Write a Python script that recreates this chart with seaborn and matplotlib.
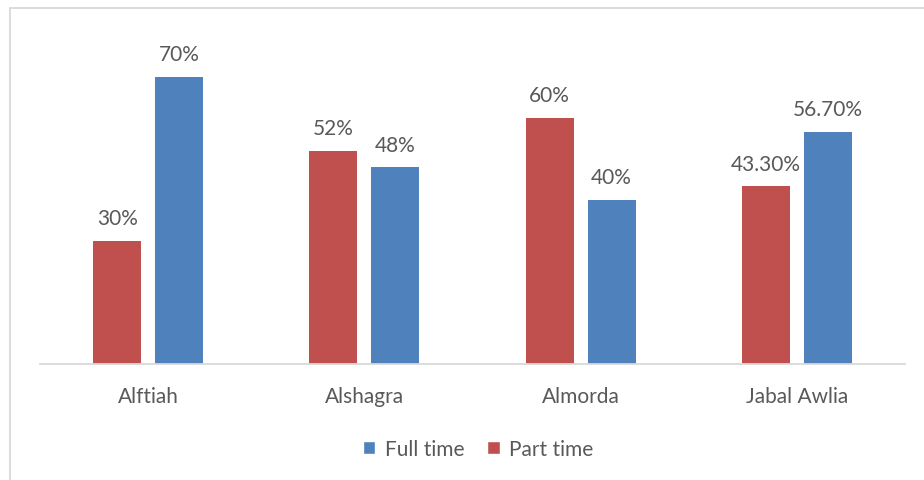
import matplotlib
matplotlib.use("Agg")
import matplotlib.pyplot as plt
import seaborn as sns
import pandas as pd
from matplotlib.lines import Line2D
from matplotlib.patches import Patch

categories = ["Alftiah", "Alshagra", "Almorda", "Jabal Awlia"]
part_time = [30, 52, 60, 43.3]
full_time = [70, 48, 40, 56.7]
part_labels = ["30%", "52%", "60%", "43.30%"]
full_labels = ["70%", "48%", "40%", "56.70%"]
series = ["Part time", "Full time"]
colors = {"Part time": "#C0504D", "Full time": "#4F81BD"}

sns.set_style("white")
plt.rcParams["font.family"] = ["Lato", "DejaVu Sans"]
text_color = "#595959"
fs = 15

df = pd.DataFrame({
    "category": categories * 2,
    "series": ["Part time"] * 4 + ["Full time"] * 4,
    "value": part_time + full_time,
})

fig = plt.figure(figsize=(9.24, 4.81), dpi=100)
ax = fig.add_axes([40 / 924, 1 - 365 / 481, 865 / 924, (365 - 37) / 481])
sns.barplot(data=df, x="category", y="value", hue="series", hue_order=series,
            palette=colors, width=0.572, gap=0.224, ax=ax, legend=False,
            saturation=1, edgecolor="none")

for container, labels in zip(ax.containers, [part_labels, full_labels]):
    ax.bar_label(container, labels=labels, padding=9, fontsize=fs, color=text_color)

ax.set_ylim(0, 80)
ax.set_xlim(-0.5, 3.5)
ax.set_xlabel("")
ax.set_ylabel("")
ax.set_yticks([])
for s in ["top", "right", "left"]:
    ax.spines[s].set_visible(False)
ax.spines["bottom"].set_color("#D9D9D9")
ax.spines["bottom"].set_linewidth(1.3)
ax.tick_params(axis="x", which="major", length=0, labelsize=fs, labelcolor=text_color, pad=16)
ax.set_xticks([-0.5, 0.5, 1.5, 2.5, 3.5], minor=True)
ax.tick_params(axis="x", which="minor", length=7, width=1.3, color="#D9D9D9", direction="out")

handles = [Patch(facecolor=colors["Full time"], label="Full time"),
           Patch(facecolor=colors["Part time"], label="Part time")]
leg = fig.legend(handles=handles, loc="center", bbox_to_anchor=(478 / 924, 1 - 450 / 481),
                 ncol=2, frameon=False, fontsize=fs, handlelength=0.6, handleheight=0.6,
                 columnspacing=1.1, handletextpad=0.45)
for t in leg.get_texts():
    t.set_color(text_color)

# chart border
fig.add_artist(Line2D([9.5 / 924, 1.0], [1 - 8.5 / 481, 1 - 8.5 / 481],
                      transform=fig.transFigure, color="#D9D9D9", lw=1.3))
fig.add_artist(Line2D([9.5 / 924, 9.5 / 924], [0, 1 - 8.5 / 481],
                      transform=fig.transFigure, color="#D9D9D9", lw=1.3))

fig.savefig("out.png", dpi=100)
